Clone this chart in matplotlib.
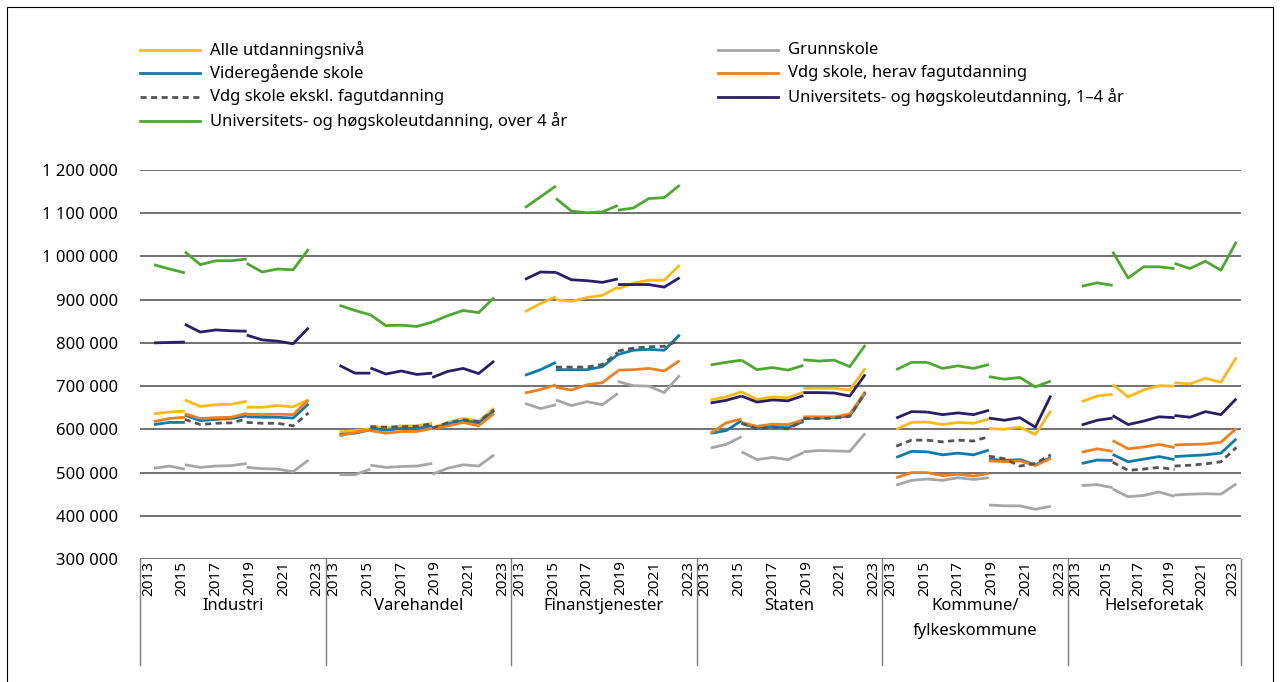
import matplotlib.pyplot as plt
from matplotlib.lines import Line2D
from matplotlib.patches import Rectangle
import numpy as np

plt.rcParams['font.family'] = ['Noto Sans', 'DejaVu Sans']

groups = ['Industri', 'Varehandel', 'Finanstjenester', 'Staten',
          'Kommune/\nfylkeskommune', 'Helseforetak']
years = list(range(2013, 2024))

# values in 1000 kr. per group: 2013-2015 | 2015-2019 | 2019-2023 (3 + 5 + 5 values)
N = None
alle = [
    [636, 640, 642, 668, 653, 657, 658, 665, 651, 651, 655, 652, 668],
    [594, 597, 601, 608, 603, 608, 608, 614, 603, 616, 625, 619, 649],
    [872, 891, 907, 900, 896, 905, 910, 929, 925, 938, 945, 945, 980],
    [668, 675, 687, 687, 669, 675, 673, 686, 695, 695, 695, 691, 741],
    [600, 616, 617, 617, 611, 616, 614, 624, 602, 600, 605, 588, 643],
    [664, 677, 681, 704, 675, 691, 701, 700, 708, 705, 718, 709, 766],
]
grunnskole = [
    [510, 515, 508, 518, 512, 515, 516, 521, 512, 509, 508, 502, 529],
    [495, 495, 508, 517, 512, 514, 515, 521, 496, 510, 518, 515, 541],
    [660, 648, 657, 668, 655, 664, 657, 683, 711, 701, 700, 685, 725],
    [557, 565, 583, 548, 530, 535, 530, 546, 548, 551, 550, 549, 591],
    [471, 482, 485, 485, 482, 488, 484, 488, 425, 423, 423, 415, 422],
    [470, 472, 465, 462, 444, 447, 455, 445, 448, 450, 451, 450, 474],
]
vgs = [
    [611, 616, 616, 633, 620, 623, 625, 631, 629, 628, 628, 626, 659],
    [588, 591, 599, 603, 598, 602, 602, 608, 602, 612, 620, 615, 643],
    [725, 738, 755, 738, 738, 738, 745, 773, 773, 783, 785, 783, 819],
    [591, 597, 620, 614, 603, 607, 604, 618, 625, 626, 627, 631, 684],
    [535, 549, 548, 548, 541, 545, 541, 552, 531, 528, 530, 518, 535],
    [521, 529, 528, 542, 525, 531, 537, 530, 537, 539, 541, 545, 578],
]
vgs_fag = [
    [618, 625, 628, 636, 625, 627, 628, 637, 635, 634, 635, 634, 668],
    [585, 593, 599, 597, 591, 595, 595, 602, 601, 608, 616, 608, 637],
    [684, 692, 703, 697, 691, 703, 708, 735, 737, 738, 741, 735, 759],
    [591, 615, 624, 616, 607, 612, 611, 622, 629, 629, 629, 635, 687],
    [488, 500, 500, 500, 493, 496, 492, 498, 527, 525, 527, 516, 533],
    [547, 555, 549, 574, 555, 559, 565, 558, 564, 565, 566, 570, 602],
]
vgs_ekskl = [
    [N, N, N, 623, 611, 614, 615, 624, 616, 614, 614, 608, 638],
    [N, N, N, 606, 605, 606, 607, 613, 603, 615, 622, 618, 645],
    [N, N, N, 744, 744, 744, 750, 778, 781, 788, 791, 792, 806],
    [N, N, N, 614, 601, 605, 601, 620, 625, 625, 626, 630, 685],
    [561, 575, 575, 575, 571, 575, 573, 583, 538, 532, 515, 521, 541],
    [N, N, N, 524, 505, 508, 512, 507, 515, 517, 520, 525, 558],
]
uni_1_4 = [
    [800, 801, 802, 843, 825, 830, 828, 827, 818, 807, 804, 798, 835],
    [748, 730, 730, 742, 728, 735, 727, 730, 720, 734, 741, 729, 758],
    [947, 964, 963, 963, 946, 944, 940, 948, 935, 935, 935, 929, 951],
    [661, 667, 677, 677, 663, 668, 666, 678, 685, 685, 684, 677, 727],
    [626, 641, 640, 640, 634, 638, 634, 644, 626, 621, 627, 605, 678],
    [610, 621, 626, 632, 611, 619, 629, 627, 632, 628, 641, 634, 671],
]
uni_over4 = [
    [981, 971, 962, 1011, 981, 990, 990, 994, 984, 964, 971, 969, 1017],
    [887, 875, 865, 865, 840, 841, 838, 848, 848, 863, 875, 870, 905],
    [1113, 1138, 1163, 1134, 1105, 1101, 1103, 1118, 1107, 1112, 1134, 1136, 1165],
    [749, 755, 760, 760, 738, 743, 737, 748, 761, 758, 760, 745, 795],
    [738, 755, 755, 755, 741, 747, 741, 750, 722, 716, 720, 698, 712],
    [931, 939, 933, 1011, 950, 976, 976, 972, 984, 972, 989, 968, 1034],
]

# (label, data, colour, linestyle), drawn in this order
series = [
    ('Grunnskole', grunnskole, '#a6a6a6', '-'),
    ('Alle utdanningsnivå', alle, '#fbb918', '-'),
    ('Videregående skole', vgs, '#0f7ca8', '-'),
    ('Vdg skole, herav fagutdanning', vgs_fag, '#f07f1e', '-'),
    ('Vdg skole ekskl. fagutdanning', vgs_ekskl, '#555555', (0, (2.2, 1.6))),
    ('Universitets- og høgskoleutdanning, 1–4 år', uni_1_4, '#2a1f66', '-'),
    ('Universitets- og høgskoleutdanning, over 4 år', uni_over4, '#4ea72e', '-'),
]

W, H = 1280, 682
fig = plt.figure(figsize=(W / 100, H / 100), dpi=100)
ax = fig.add_axes([140 / W, 1 - 559 / H, (1241 - 140) / W, (559 - 170) / H])

segments = [(0, 3, 0), (3, 8, 2), (8, 13, 6)]  # slice of values, first year index
for label, data, color, ls in series:
    for g, vals in enumerate(data):
        v = np.array([np.nan if x is None else x * 1000 for x in vals], dtype=float)
        for a, b, j0 in segments:
            part = v[a:b]
            if np.all(np.isnan(part)):
                continue
            xs = 12 * g + j0 + np.arange(len(part))
            ax.plot(xs, part, color=color, lw=2.0, ls=ls, solid_capstyle='butt')

xmin, xmax = -0.9, 70.3
ax.set_xlim(xmin, xmax)
ax.set_ylim(300000, 1200000)
yt = np.arange(300000, 1200001, 100000)
ax.set_yticks(yt)
ax.set_yticklabels([f'{v:,}'.replace(',', ' ') for v in yt], fontsize=12)
ax.tick_params(axis='y', length=0, pad=16)
ax.set_xticks([])
for s in ax.spines.values():
    s.set_visible(False)
for v in yt:
    ax.axhline(v, color='#666666', lw=1.3, zorder=0)

# category axis below the plot
edges = [12 * g - 0.9 for g in range(6)] + [xmax]
trans = ax.get_xaxis_transform()
for e in edges:
    ax.plot([e, e], [0, -0.273], transform=trans, color='#7f7f7f', lw=1, clip_on=False)
for g, name in enumerate(groups):
    left, right = edges[g], edges[g + 1]
    step = (right - left) / 11
    for j, yr in enumerate(years):
        if j % 2 == 0:
            ax.text(left + (j + 0.5) * step, -0.004, str(yr), transform=trans,
                    rotation=90, ha='center', va='top', fontsize=11)
    ax.text((left + right) / 2, -0.099, name, transform=trans, ha='center',
            va='top', fontsize=12, linespacing=1.75)

# legend
leg_pos = {
    'Alle utdanningsnivå': (140, 50),
    'Videregående skole': (140, 73),
    'Vdg skole ekskl. fagutdanning': (140, 97),
    'Universitets- og høgskoleutdanning, over 4 år': (140, 121),
    'Grunnskole': (718, 50),
    'Vdg skole, herav fagutdanning': (718, 73),
    'Universitets- og høgskoleutdanning, 1–4 år': (718, 97),
}
for label, data, color, ls in series:
    px, py = leg_pos[label]
    fig.add_artist(Line2D([px / W, (px + 60) / W], [1 - py / H, 1 - py / H],
                          color=color, lw=2.0, ls=ls))
    fig.text((px + 70) / W, 1 - py / H, label, ha='left', va='center', fontsize=12)

fig.add_artist(Rectangle((7 / W, -0.02), (1273 - 7) / W, 1.02 - 7 / H,
                         transform=fig.transFigure, fill=False, ec='black', lw=0.8))

fig.savefig('out.png', dpi=100)
